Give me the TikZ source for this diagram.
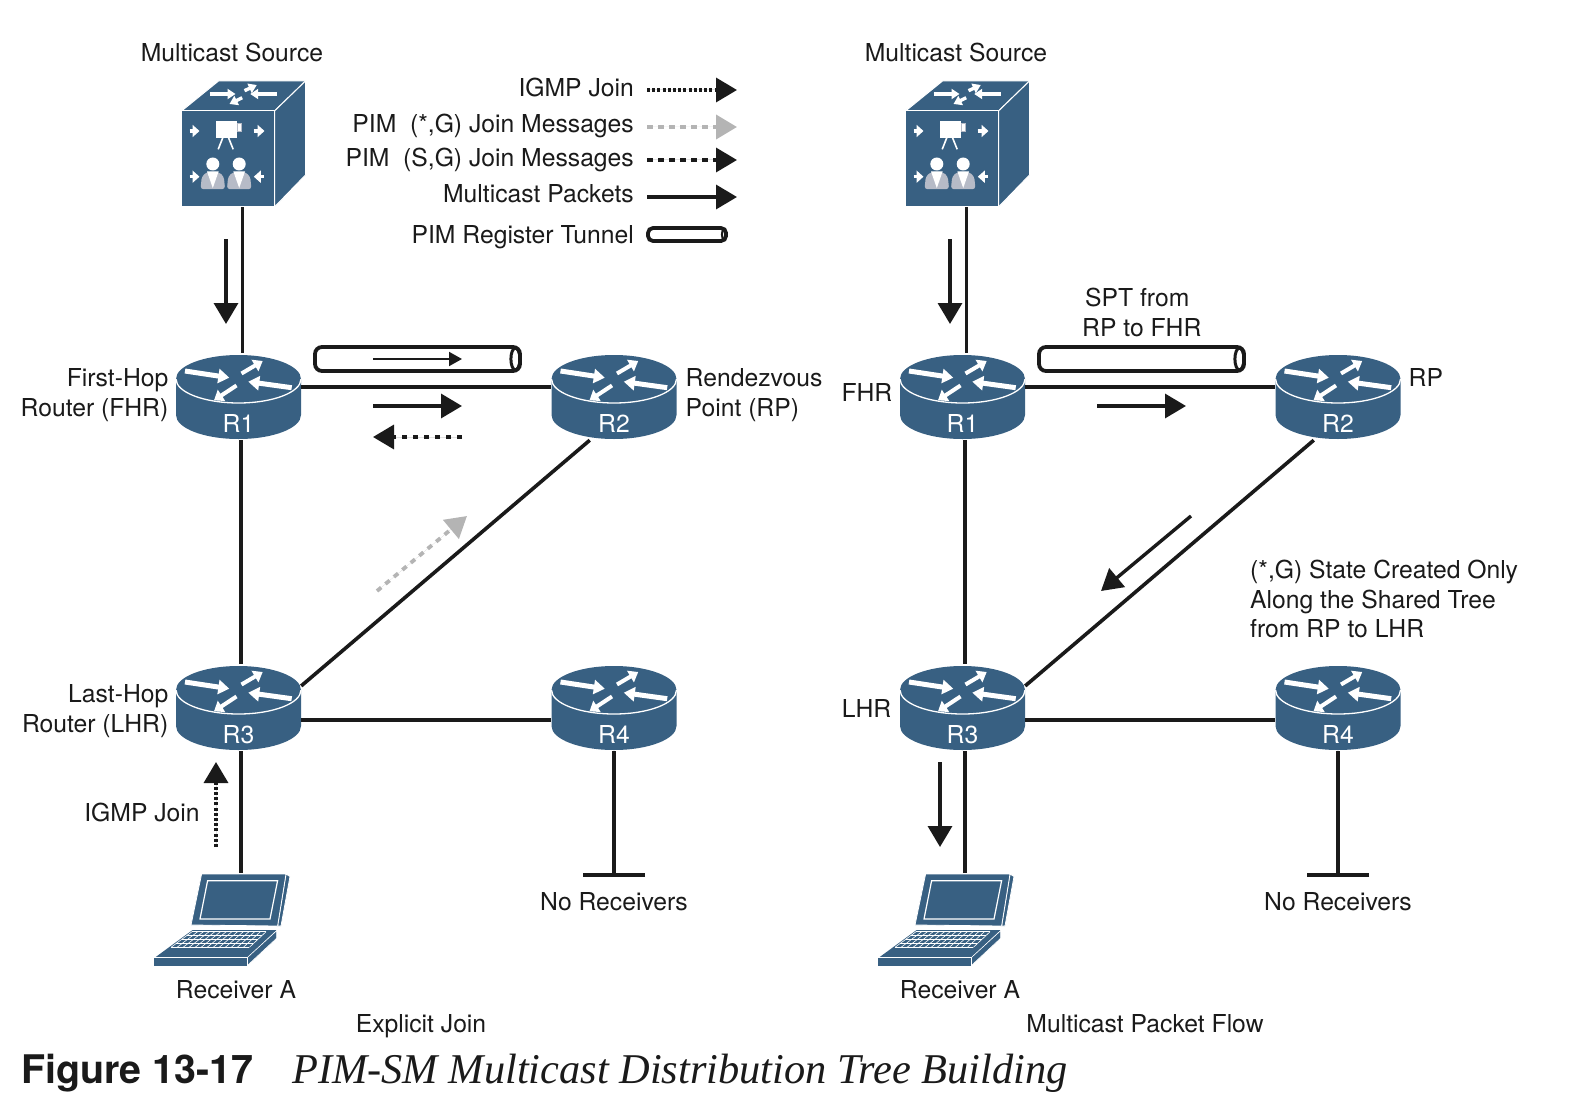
\documentclass[tikz,border=0pt]{standalone}
\usepackage{fontspec}
\setmainfont{TeX Gyre Heros}
\newfontfamily\capserif{Liberation Serif}
\usetikzlibrary{arrows.meta,positioning,calc}
\definecolor{Ink}{HTML}{1A1A1A}
\definecolor{Steel}{HTML}{386082}
\definecolor{Ghost}{HTML}{B4B4B4}
\definecolor{Suit}{HTML}{B6BBC7}
\tikzset{
  lbl/.style={inner sep=0pt,text=Ink,font=\fontsize{24.7}{29.5}\selectfont,text height=18pt,text depth=5pt},
  multi/.style={inner sep=0pt,text=Ink,font=\fontsize{24.7}{29.5}\selectfont},
  link/.style={draw=Ink,line width=3.6pt},
  arrow/.style={-{Triangle[length=21pt,width=24pt]},line width=3.4pt,draw=Ink,fill=Ink},
  thinArrow/.style={-{Triangle[length=13pt,width=14pt]},line width=2pt,draw=Ink,fill=Ink},
  igmpArrow/.style={arrow,dash pattern=on 3pt off 2.2pt},
  sgArrow/.style={arrow,dash pattern=on 5.5pt off 5.5pt},
  starArrow/.style={arrow,line width=3.8pt,draw=Ghost,fill=Ghost,dash pattern=on 5.5pt off 5.5pt},
  tunnel/.style={draw=Ink,line width=3.8pt,fill=white,rounded corners=7pt,inner sep=0pt},
  iconbox/.style={inner sep=0pt,minimum width=#1},
  block/.style={draw=white,line width=5pt,-{Triangle[length=11pt,width=14pt]},fill=white},
  shortblock/.style={draw=white,line width=4pt,-{Triangle[length=9pt,width=13pt]},fill=white},
  cubeblock/.style={draw=white,line width=3.4pt,-{Triangle[length=8pt,width=10pt]},fill=white},
  smallblock/.style={draw=white,line width=3.2pt,-{Triangle[length=7pt,width=12pt]},fill=white},
  pics/router/.style={code={
    \node[iconbox=125pt,minimum height=87pt] (box) at (0,-1.5) {};
    \fill[Steel] (-62.5,-19) -- (-62.5,17) arc[start angle=180,end angle=360,x radius=62.5pt,y radius=24pt]
      -- (62.5,-19) arc[start angle=0,end angle=180,x radius=62.5pt,y radius=24pt] -- cycle;
    \draw[white,line width=1.3pt] (-62.5,-19) arc[start angle=180,end angle=360,x radius=62.5pt,y radius=24pt];
    \draw[block] (-53.5,-27) -- (-9.2,-20.3);
    \draw[shortblock] (3,-24.5) -- (24.2,-37);
    \draw[block] (53.2,-10.3) -- (9.8,-16.3);
    \draw[shortblock] (-2,-12.5) -- (-24.5,2.3);
    \node[inner sep=0pt,text=white,font=\fontsize{24.7}{29.5}\selectfont] (label) at (0,25.5) {#1};
  }},
  pics/viewer/.style={code={
    \fill[Suit,rounded corners=3pt] (-12.3,17.7) -- (-11,5) -- (-6,0.5) -- (6,0.5) -- (11,5) -- (12.3,17.7) -- cycle;
    \fill[white] (-5.8,0) -- (5.8,0) -- (0,16.5) -- cycle;
    \fill[white] (0,-7.5) circle[radius=6.5pt];
  }},
  pics/sourcecube/.style={code={
    \node[iconbox=124pt,minimum height=126pt] (box) at (0,0) {};
    \fill[Steel,draw=white,line width=1pt] (-62,-33) -- (-25,-63) -- (62,-63) -- (31,-33) -- cycle;
    \fill[Steel,draw=white,line width=1pt] (31,-33) -- (62,-63) -- (62,31) -- (31,63) -- cycle;
    \fill[Steel,draw=white,line width=1pt] (-62,-33) rectangle (31,63);
    \draw[cubeblock] (-34,-50) -- (-8,-50);
    \draw[cubeblock] (1,-53.3) -- (13.3,-59);
    \draw[cubeblock] (33.3,-50) -- (6.7,-50);
    \draw[cubeblock] (-1.3,-46.3) -- (-14,-40);
    \fill[white] (-27.3,-23) rectangle (-6.3,-6.3);
    \fill[white,draw=Suit,line width=.7pt] (-6.3,-20.7) rectangle (-1.7,-13);
    \draw[white,line width=1.6pt] (-20.7,-6.3) -- (-25.3,5.3) (-15,-6.3) -- (-10.3,5.3);
    \pic at (-30.7,27.5) {viewer};
    \pic at (-4.3,27.5) {viewer};
    \draw[smallblock] (-54,-13) -- (-44,-13);
    \draw[smallblock] (10,-13) -- (21,-13);
    \draw[smallblock] (-54,32.7) -- (-44,32.7);
    \draw[smallblock] (20.3,32.7) -- (10.3,32.7);
  }},
  pics/laptop/.style={code={
    \node[iconbox=137pt,minimum height=93pt] (box) at (0,0) {};
    \fill[Steel,draw=white,line width=.8pt] (64.2,-45.5) -- (68.2,-43) -- (59.2,6.5) -- (55.8,6.5) -- cycle;
    \fill[Steel,draw=white,line width=.8pt] (-20.2,-45.5) -- (64.2,-45.5) -- (55.8,6.5) -- (-30.8,5.5) -- cycle;
    \draw[white,line width=1.2pt] (-14.2,-38.8) -- (55.8,-38.8) -- (48.2,-0.5) -- (-21.8,-0.5) -- cycle;
    \fill[Steel] (-29.2,10.5) -- (54.8,10.5) -- (25.8,37.8) -- (-66.5,37.8) -- cycle;
    \fill[Steel,draw=white,line width=.6pt] (25.8,37.8) -- (54.8,11.2) -- (54.8,18.8) -- (25.8,45.8) -- cycle;
    \fill[Steel,draw=white,line width=.6pt] (-68.5,37.8) rectangle (25.8,46.5);
    \coordinate (tl) at (-29.8,12.2);
    \coordinate (tr) at (44.2,12.2);
    \coordinate (br) at (27.5,27.8);
    \coordinate (bl) at (-50.8,27.8);
    \foreach \t in {0,.25,.5,.75,1}
      \draw[white,line width=.6pt] ($(tl)!\t!(bl)$) -- ($(tr)!\t!(br)$);
    \foreach \t in {0,.077,...,1.01}
      \draw[white,line width=.6pt] ($(tl)!\t!(tr)$) -- ($(bl)!\t!(br)$);
  }}
}
\begin{document}
\begin{tikzpicture}[x=1pt,y=-1pt]
\useasboundingbox (0,0) rectangle (1576,1102);
% left panel
\pic (src) at (243.5,144) {sourcecube};
\pic (r1) at (238.5,398) {router={R1}};
\pic (r2) at (614,398) {router={R2}};
\pic (r3) at (238.5,709) {router={R3}};
\pic (r4) at (614,709) {router={R4}};
\pic (pc) at (221.8,919.5) {laptop};
\coordinate (r4stop) at (614,877);
\draw[link] ([xshift=-1pt]srcbox.south) -- ([xshift=4pt]r1box.north);
\draw[link] ([xshift=2.5pt]r1box.south) -- ([xshift=2.5pt]r3box.north);
\draw[link] (r1box.east |- 0,387) -- (r2box.west |- 0,387);
\draw[link] (r2box.241) -- (r3box.19);
\draw[link] (r3box.east |- 0,720) -- (r4box.west |- 0,720);
\draw[link] ([xshift=2.5pt]r3box.south) -- ([xshift=19.2pt]pcbox.north);
\draw[link,-{Bar[width=62pt]}] (r4box.south) -- (r4stop);
\node[tunnel,minimum width=205pt,minimum height=24pt] (tun) at (417.5,359) {};
\draw[Ink,line width=3pt] ([xshift=-6.5pt]tun.east) ellipse[x radius=4.5pt,y radius=11pt];
\coordinate (tunA) at (373,359);
\coordinate (tunB) at (462,359);
\draw[thinArrow] (tunA) -- (tunB);
\coordinate (mcA) at (373,406);
\coordinate (mcB) at (462,406);
\draw[arrow] (mcA) -- (mcB);
\coordinate (sgA) at (462,437);
\coordinate (sgB) at (373,437);
\draw[sgArrow] (sgA) -- (sgB);
\coordinate (starA) at (377,591);
\coordinate (starB) at (467,516);
\draw[starArrow] (starA) -- (starB);
\coordinate (srcA) at (226,239);
\coordinate (srcB) at (226,324);
\draw[arrow] (srcA) -- (srcB);
\coordinate (igmpA) at (216,847);
\coordinate (igmpB) at (216,762);
\draw[igmpArrow] (igmpA) -- (igmpB);
\node[lbl] (srcL) at (232,55.5) {Multicast Source};
\node[multi,align=right,anchor=east] (r1L) at (168.5,395) {First-Hop\\Router (FHR)};
\node[multi,align=left,anchor=west] (r2L) at (685.5,395) {Rendezvous\\Point (RP)};
\node[multi,align=right,anchor=east] (r3L) at (168.5,711) {Last-Hop\\Router (LHR)};
\node[lbl] (igmpL) at (142,814.5) {IGMP Join};
\node[lbl] (pcL) at (236,992) {Receiver A};
\node[lbl] (r4L) at (614,904) {No Receivers};
\node[lbl] (leftL) at (421,1026) {Explicit Join};
% legend
\node[lbl,anchor=east] (kIgmp) at (634,90.5) {IGMP Join};
\node[lbl,anchor=east] (kStar) at (634,126.5) {PIM~~(*,G) Join Messages};
\node[lbl,anchor=east] (kSg) at (634,160.5) {PIM~~(S,G) Join Messages};
\node[lbl,anchor=east] (kMc) at (634,196.5) {Multicast Packets};
\node[lbl,anchor=east] (kTun) at (634,236.5) {PIM Register Tunnel};
\coordinate (kIgmpA) at (647,90);
\coordinate (kIgmpB) at (737,90);
\draw[igmpArrow] (kIgmpA) -- (kIgmpB);
\coordinate (kStarA) at (647,127);
\coordinate (kStarB) at (737,127);
\draw[starArrow] (kStarA) -- (kStarB);
\coordinate (kSgA) at (647,160);
\coordinate (kSgB) at (737,160);
\draw[sgArrow] (kSgA) -- (kSgB);
\coordinate (kMcA) at (647,197);
\coordinate (kMcB) at (737,197);
\draw[arrow] (kMcA) -- (kMcB);
\node[tunnel,rounded corners=5pt,minimum width=78pt,minimum height=13pt] (kTunS) at (687,234.5) {};
\draw[Ink,line width=2pt] ([xshift=-4pt]kTunS.east) ellipse[x radius=2pt,y radius=5pt];
% right panel
\pic (srcR) at (967.5,144) {sourcecube};
\pic (q1) at (962.5,398) {router={R1}};
\pic (q2) at (1338,398) {router={R2}};
\pic (q3) at (962.5,709) {router={R3}};
\pic (q4) at (1338,709) {router={R4}};
\pic (pcR) at (945.8,919.5) {laptop};
\coordinate (q4stop) at (1338,877);
\draw[link] ([xshift=-1pt]srcRbox.south) -- ([xshift=4pt]q1box.north);
\draw[link] ([xshift=2.5pt]q1box.south) -- ([xshift=2.5pt]q3box.north);
\draw[link] (q1box.east |- 0,387) -- (q2box.west |- 0,387);
\draw[link] (q2box.241) -- (q3box.19);
\draw[link] (q3box.east |- 0,720) -- (q4box.west |- 0,720);
\draw[link] ([xshift=2.5pt]q3box.south) -- ([xshift=19.2pt]pcRbox.north);
\draw[link,-{Bar[width=62pt]}] (q4box.south) -- (q4stop);
\node[tunnel,minimum width=205pt,minimum height=24pt] (tunR) at (1141.5,359) {};
\draw[Ink,line width=3pt] ([xshift=-6.5pt]tunR.east) ellipse[x radius=4.5pt,y radius=11pt];
\coordinate (mcRA) at (1097,406);
\coordinate (mcRB) at (1186,406);
\draw[arrow] (mcRA) -- (mcRB);
\coordinate (rpA) at (1191,516);
\coordinate (rpB) at (1101,591);
\draw[arrow] (rpA) -- (rpB);
\coordinate (srcRA) at (950,239);
\coordinate (srcRB) at (950,324);
\draw[arrow] (srcRA) -- (srcRB);
\coordinate (pktA) at (940,762);
\coordinate (pktB) at (940,847);
\draw[arrow] (pktA) -- (pktB);
\node[lbl] (srcRL) at (956,55.5) {Multicast Source};
\node[multi,align=left,anchor=west] (sptL) at (1082,312.5) {\hspace*{3pt}SPT from\\RP to FHR};
\node[lbl,anchor=east] (q1L) at (892.5,395) {FHR};
\node[lbl,anchor=west] (q2L) at (1408.5,380) {RP};
\node[lbl,anchor=east] (q3L) at (891.5,711) {LHR};
\node[multi,align=left,anchor=west] (noteL) at (1250,599) {(*,G) State Created Only\\Along the Shared Tree\\from RP to LHR};
\node[lbl] (pcRL) at (960,992) {Receiver A};
\node[lbl] (q4L) at (1338,904) {No Receivers};
\node[lbl] (rightL) at (1145,1026) {Multicast Packet Flow};
% caption
\node[inner sep=0pt,anchor=base west,text=Ink,font=\fontsize{39.4}{44}\selectfont\bfseries] (figL) at (21,1083) {Figure 13-17};
\node[inner sep=0pt,anchor=base west,text=Ink,font=\fontsize{42.4}{46}\selectfont\capserif\itshape] (capL) at (292,1083) {PIM-SM Multicast Distribution Tree Building};
\end{tikzpicture}
\end{document}
